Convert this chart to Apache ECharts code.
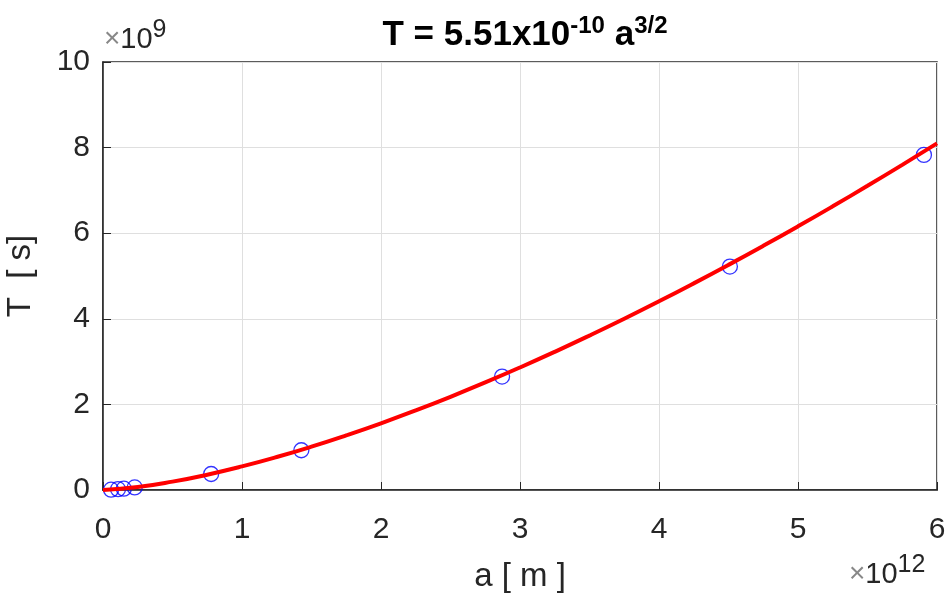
<!DOCTYPE html>
<html>
<head>
<meta charset="utf-8">
<script src="https://cdn.jsdelivr.net/npm/echarts@6/dist/echarts.min.js"></script>
<style>
  html, body { margin: 0; padding: 0; background: #fff; }
  #chart { width: 952px; height: 596px; }
</style>
</head>
<body>
<div id="chart"></div>
<script>
// orbit data, a in 1e12 m, T in 1e9 s
var planetA = [0.058, 0.108, 0.150, 0.228, 0.778, 1.427, 2.871, 4.51, 5.906];
var planetT = [0.0076, 0.0194, 0.0316, 0.0594, 0.374, 0.929, 2.65, 5.22, 7.83];

// fitted curve
var fitA = [0, 0.25, 0.5, 0.75, 1, 1.25, 1.5, 1.75, 2, 2.25, 2.5, 2.75, 3,
            3.25, 3.5, 3.75, 4, 4.25, 4.5, 4.75, 5, 5.25, 5.5, 5.75, 6];
var fitT = [0, 0.069, 0.195, 0.358, 0.551, 0.770, 1.012, 1.276, 1.558, 1.860,
            2.178, 2.513, 2.863, 3.228, 3.608, 4.001, 4.408, 4.828, 5.260,
            5.704, 6.160, 6.628, 7.107, 7.597, 8.098];

var xTicks = [0, 1, 2, 3, 4, 5, 6];
var yTicks = [0, 2, 4, 6, 8, 10];

var txt = '#262626';
var font = 'Liberation Sans, Arial, sans-serif';

var myChart = echarts.init(document.getElementById('chart'));

var option = {
    backgroundColor: '#fff',
    animation: false,
    title: {
        text: '{b|T = 5.51x10}{sup|-10}{b| a}{sup|3/2}',
        left: 520,
        top: 9,
        textAlign: 'center',
        textStyle: {
            color: '#000',
            fontFamily: font,
            fontWeight: 'bold',
            fontSize: 35,
            rich: {
                b: { fontSize: 35, fontWeight: 'bold', fontFamily: font, color: '#000' },
                sup: { fontSize: 24, fontWeight: 'bold', fontFamily: font, color: '#000', padding: [0, 0, 18, 0] }
            }
        }
    },
    grid: {
        left: 103, right: 15, top: 62, bottom: 106,
        outerBoundsMode: 'none',
        show: true,
        borderColor: txt,
        borderWidth: 1.5
    },
    xAxis: {
        type: 'value',
        min: 0, max: 6, interval: 1,
        name: 'a [ m ]',
        nameLocation: 'middle',
        nameGap: 70,
        nameTextStyle: { color: txt, fontSize: 33, fontFamily: font },
        axisLine: { lineStyle: { color: txt, width: 1.5 } },
        axisTick: { inside: true, length: 8, lineStyle: { color: txt } },
        axisLabel: {
            color: txt, fontSize: 30, fontFamily: font, margin: 25,
            formatter: function (v) { return xTicks.indexOf(v) >= 0 ? String(v) : ''; }
        },
        splitLine: { show: true, lineStyle: { color: '#dfdfdf', width: 1 } }
    },
    yAxis: {
        type: 'value',
        min: 0, max: 10, interval: 2,
        name: 'T  [ s]',
        nameLocation: 'middle',
        nameGap: 66,
        nameTextStyle: { color: txt, fontSize: 33, fontFamily: font },
        axisLine: { lineStyle: { color: txt, width: 1.5 } },
        axisTick: { inside: true, length: 8, lineStyle: { color: txt } },
        axisLabel: {
            color: txt, fontSize: 30, fontFamily: font, margin: 13,
            formatter: function (v) { return yTicks.indexOf(v) >= 0 ? String(v) : ''; }
        },
        splitLine: { show: true, lineStyle: { color: '#dfdfdf', width: 1 } }
    },
    graphic: [
        {
            type: 'text', left: 104, top: 18,
            style: {
                text: '{x|×}{n|10}{sup|9}',
                rich: {
                    x: { fontSize: 28, fontFamily: font, fill: '#888' },
                    n: { fontSize: 29, fontFamily: font, fill: txt },
                    sup: { fontSize: 25, fontFamily: font, fill: txt, padding: [0, 0, 18, 0] }
                }
            }
        },
        {
            type: 'text', left: 849, top: 553,
            style: {
                text: '{x|×}{n|10}{sup|12}',
                rich: {
                    x: { fontSize: 28, fontFamily: font, fill: '#888' },
                    n: { fontSize: 29, fontFamily: font, fill: txt },
                    sup: { fontSize: 25, fontFamily: font, fill: txt, padding: [0, 0, 18, 0] }
                }
            }
        }
    ],
    series: [
        {
            type: 'scatter',
            data: planetA.map(function (a, i) { return [a, planetT[i]]; }),
            symbol: 'circle',
            symbolSize: 15,
            itemStyle: { color: 'transparent', borderColor: '#0000ff', borderWidth: 1.3 },
            z: 2
        },
        {
            type: 'line',
            data: fitA.map(function (a, i) { return [a, fitT[i]]; }),
            smooth: true,
            showSymbol: false,
            lineStyle: { color: '#ff0000', width: 4 },
            z: 3
        }
    ]
};
myChart.setOption(option);
</script>
</body>
</html>
